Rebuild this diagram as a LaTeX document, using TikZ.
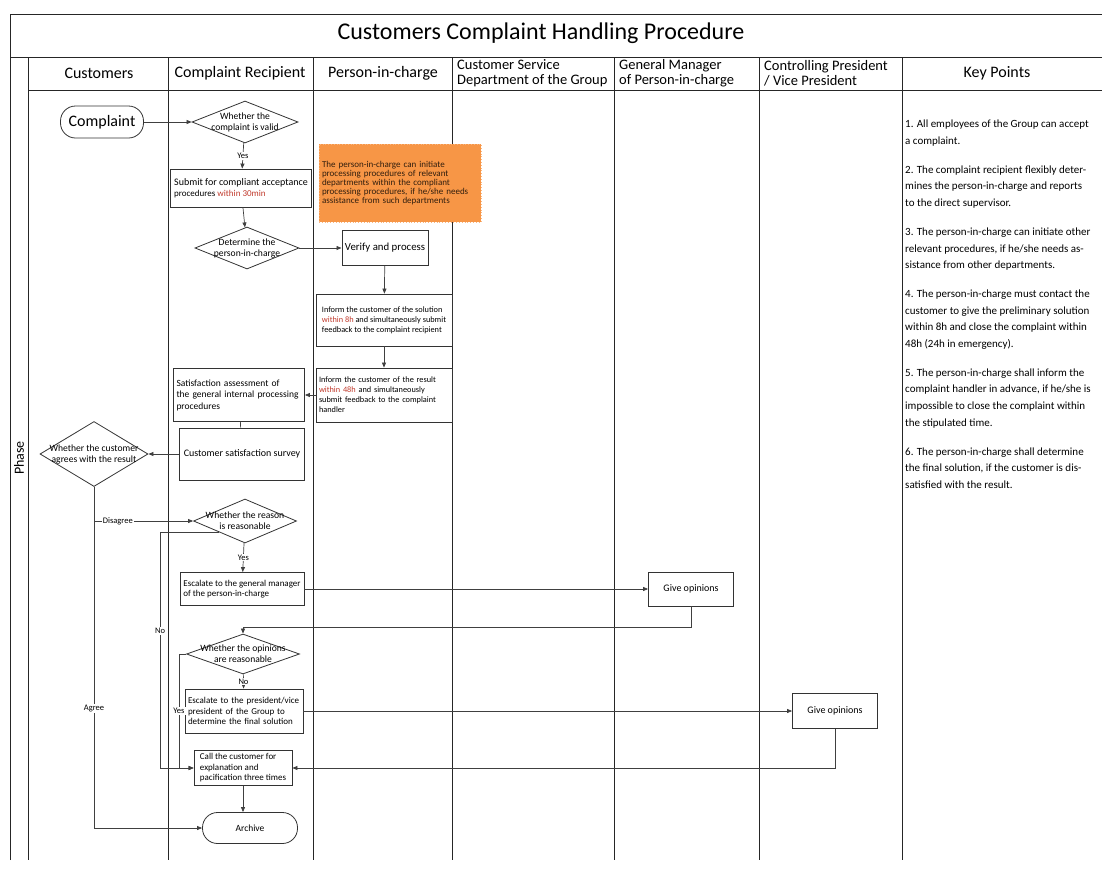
\documentclass[tikz,border=0pt]{standalone}
\usepackage{fontspec}
\setmainfont{Carlito}
\usetikzlibrary{shapes.geometric,arrows.meta}
\definecolor{late}{HTML}{C0392B}
\definecolor{note}{HTML}{F79646}
\begin{document}
\begin{tikzpicture}[x=1pt,y=-1pt,>={Triangle[length=5pt,width=4pt]},
    lane/.style={draw=black!85,line width=1pt},
    head/.style={font=\fontsize{16}{15}\selectfont},
    box/.style={draw=black!80,line width=0.8pt,inner sep=3pt,align=left,font=\fontsize{9}{10.5}\selectfont},
    dia/.style 2 args={diamond,draw=black!80,line width=0.8pt,inner sep=0pt,minimum width=#1,minimum height=#2},
    dtext/.style={align=center,inner sep=0pt,font=\fontsize{9.6}{11}\selectfont},
    term/.style={draw=black!80,line width=0.8pt,rounded corners=15pt},
    lab/.style={fill=white,inner sep=1pt,font=\fontsize{8.5}{9}\selectfont},
    flow/.style={draw=black!75,line width=0.7pt}]
    \useasboundingbox(0,0)rectangle(1102,881);
    \clip(0,0)rectangle(1102,881);
    \draw[lane](10,860)--(10,14)--(1102,14);
    \draw[lane](10,57)--(1102,57);
    \draw[lane](28,90)--(1102,90);
    \draw[lane](28,57)--(28,860)(168,57)--(168,860)(313,57)--(313,860)(452,57)--(452,860)
        (614,57)--(614,860)(759,57)--(759,860)(902,57)--(902,860);
    \node(t)at(541,33){\fontsize{24}{27}\selectfont Customers Complaint Handling Procedure};
    \node[rotate=90](p)at(19,458){\fontsize{14}{15}\selectfont Phase};
    \node[head](c1)at(99,73){Customers};
    \node[head](c2)at(240,73){Complaint Recipient};
    \node[head](c3)at(383,73){Person-in-charge};
    \node[head,align=left,anchor=west,inner sep=2pt,font=\fontsize{14.5}{15}\selectfont](c4)at(455,73){Customer Service\\Department of the Group};
    \node[head,align=left,anchor=west,inner sep=2pt,font=\fontsize{14.5}{15}\selectfont](c5)at(617,73){General Manager\\of Person-in-charge};
    \node[head,align=left,anchor=west,inner sep=2pt,font=\fontsize{14.5}{15}\selectfont](c6)at(762,73){Controlling President\\/ Vice President};
    \node[head](c7)at(997,73){Key Points};
    \node[term,minimum width=83pt,minimum height=32pt](1)at(102,122){\fontsize{16}{18}\selectfont Complaint};
    \node[dia={106pt}{42pt},label={[dtext]center:Whether the\\complaint is valid}](2)at(245,122){};
    \node[box,minimum width=141pt,minimum height=38pt](3)at(241,188){\fontsize{10}{13}\selectfont Submit for compliant acceptance\\procedures \textcolor{late}{within 30min}};
    \node[dia={104pt}{42pt},label={[dtext]center:Determine the\\person-in-charge}](4)at(247,248){};
    \node[box,draw=note!70!white,dotted,fill=note,text=black!80!note,text width=156pt,minimum height=78pt,font=\fontsize{9}{9.2}\selectfont](5)at(400,183){The person-in-charge can initiate\\processing procedures of relevant\\departments within the compliant\\processing procedures, if he/she needs\\assistance from such departments};
    \node[box,align=center,minimum width=85pt,minimum height=35pt,font=\fontsize{10.8}{12}\selectfont](6)at(385,248){Verify and process};
    \node[box,minimum width=136pt,minimum height=52pt,font=\fontsize{8.3}{10}\selectfont](7)at(384,320){Inform the customer of the solution\\\textcolor{late}{within 8h} and simultaneously submit\\feedback to the complaint recipient};
    \node[box,text width=130pt,minimum height=54pt,font=\fontsize{8.3}{10}\selectfont](8)at(384,395){Inform the customer of the result\\\textcolor{late}{within 48h} and simultaneously\\submit feedback to the complaint\\handler};
    \node[box,text width=125pt,minimum height=53pt,font=\fontsize{9.5}{11.5}\selectfont](9)at(239,395){Satisfaction assessment of\\the general internal processing\\procedures};
    \node[box,align=center,minimum width=125pt,minimum height=52pt,font=\fontsize{10}{11}\selectfont](10)at(242,454){Customer satisfaction survey};
    \node[dia={108pt}{65pt},label={[dtext]center:Whether the customer\\agrees with the result}](11)at(94,454){};
    \node[dia={103pt}{44pt},label={[dtext]center:Whether the reason\\is reasonable}](12)at(245,521){};
    \node[box,minimum width=124pt,minimum height=33pt](13)at(242,589){Escalate to the general manager\\of the person-in-charge};
    \node[box,align=center,minimum width=85pt,minimum height=34pt,font=\fontsize{10}{11}\selectfont](14)at(691,589){Give opinions};
    \node[dia={113pt}{40pt},label={[dtext]center:Whether the opinions\\are reasonable}](15)at(243,654){};
    \node[box,text width=112pt,minimum height=44pt](16)at(244,711){Escalate to the president/vice\\president of the Group to\\determine the final solution};
    \node[box,align=center,minimum width=85pt,minimum height=35pt,font=\fontsize{10}{11}\selectfont](17)at(835,711){Give opinions};
    \node[box,minimum width=98pt,minimum height=33pt](18)at(243,768){Call the customer for\\explanation and\\pacification three times};
    \node[term,minimum width=95pt,minimum height=31pt,font=\fontsize{9.5}{10}\selectfont](19)at(250,828){Archive};
    \node[align=left,anchor=north west,inner sep=0pt,font=\fontsize{11}{16.7}\selectfont](k)at(905,120){1. All employees of the Group can accept\\a complaint.\\[12pt]
        2. The complaint recipient flexibly deter-\\mines the person-in-charge and reports\\to the direct supervisor.\\[12pt]
        3. The person-in-charge can initiate other\\relevant procedures, if he/she needs as-\\sistance from other departments.\\[12pt]
        4. The person-in-charge must contact the\\customer to give the preliminary solution\\within 8h and close the complaint within\\48h (24h in emergency).\\[12pt]
        5. The person-in-charge shall inform the\\complaint handler in advance, if he/she is\\impossible to close the complaint within\\the stipulated time.\\[12pt]
        6. The person-in-charge shall determine\\the final solution, if the customer is dis-\\satisfied with the result.};
    \coordinate(a)at(179,0);
    \coordinate(b)at(160,0);
    \draw[flow,->](1)--(2);
    \draw[flow,->](2)--(3)node[lab,midway]{Yes};
    \draw[flow,->](3)--(4);
    \draw[flow,->](4)--(6);
    \draw[flow,->](6)--(7);
    \draw[flow,->](7)--(8);
    \draw[flow,->](8)--(9);
    \draw[flow](9)--(10);
    \draw[flow,->](10)--(11);
    \draw[flow,->](11.south)|-(19.west)node[lab,pos=0.325]{Agree};
    \draw[flow,->](11.south|-12.west)--(12.west)node[lab,pos=0.24]{Disagree};
    \draw[flow,->](12)--(13)node[lab,midway]{Yes};
    \draw[flow,->](13)--(14);
    \draw[flow,->](14.south)--++(0,21)-|(15.north);
    \draw[flow,->](15)--(16)node[lab,midway]{No};
    \draw[flow,->](16)--(17);
    \draw[flow,->](17.south)|-(18.east);
    \draw[flow,->](15.west)--(15.west-|a)--(a|-18.west)node[lab,midway]{Yes}--(18.west);
    \draw[flow,->](12.south west)--(12.south west-|b)--(b|-18.west)node[lab,pos=0.42]{No}--(18.west);
    \draw[flow,->](18)--(18.south|-19.north);
\end{tikzpicture}
\end{document}
